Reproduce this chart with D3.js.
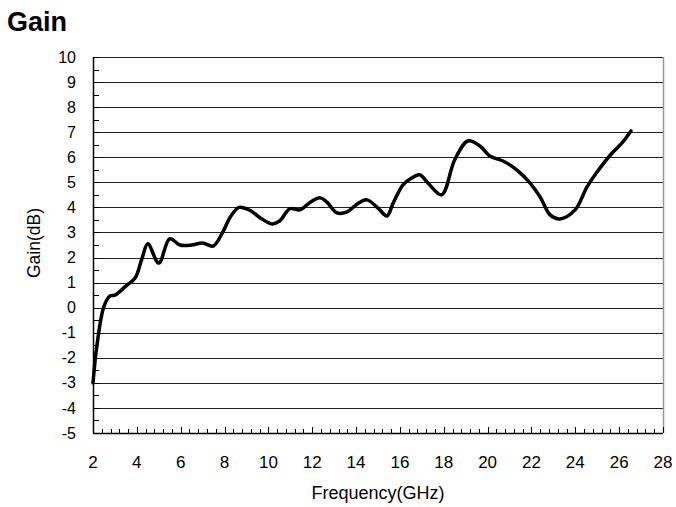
<!DOCTYPE html>
<html>
<head>
<meta charset="utf-8">
<script src="https://cdn.jsdelivr.net/npm/d3@7"></script>
<style>
  body { margin: 0; background: #fff; }
  text { font-family: "Liberation Sans", Arial, sans-serif; fill: #000; }
</style>
</head>
<body>
<div id="wrapper"></div>
<script>
// data
const frequency = [2.0, 2.18, 2.5, 2.78, 3.0, 3.55, 3.92, 4.24, 4.5, 5.0, 5.5, 5.97, 6.5, 7.0, 7.48, 7.9, 8.25, 8.66, 9.16,
  9.6, 10.17, 10.5, 10.99, 11.44, 11.9, 12.36, 12.67, 13.13, 13.59, 14.04, 14.5, 15.0, 15.41, 15.69, 16.14, 16.5, 16.9,
  17.3, 17.9, 18.5, 19.1, 19.65, 20.1, 20.7, 21.34, 21.94, 22.4, 22.85, 23.3, 23.99, 24.53, 24.99, 25.68, 26.13, 26.54];
const gain = [-3.0, -1.5, 0.05, 0.47, 0.5, 0.9, 1.18, 1.98, 2.55, 1.78, 2.75, 2.5, 2.5, 2.58, 2.46, 2.98, 3.6, 4.0, 3.88,
  3.6, 3.34, 3.45, 3.95, 3.9, 4.2, 4.38, 4.21, 3.78, 3.82, 4.13, 4.3, 3.97, 3.66, 4.17, 4.9, 5.15, 5.3,
  4.95, 4.5, 5.9, 6.65, 6.45, 6.05, 5.85, 5.49, 4.97, 4.41, 3.7, 3.54, 3.9, 4.81, 5.41, 6.17, 6.57, 7.05];
const xTicks = [2, 4, 6, 8, 10, 12, 14, 16, 18, 20, 22, 24, 26, 28];
const yTicks = [-5, -4, -3, -2, -1, 0, 1, 2, 3, 4, 5, 6, 7, 8, 9, 10];

const points = frequency.map((f, i) => ({ f, g: gain[i] }));

const width = 676, height = 507;
const margin = { top: 57, right: 13, bottom: 74, left: 93 };
const bw = width - margin.left - margin.right;
const bh = height - margin.top - margin.bottom;

const svg = d3.select('#wrapper').append('svg')
  .attr('width', width)
  .attr('height', height);

const x = d3.scaleLinear().domain([2, 28]).range([0, bw]);
const y = d3.scaleLinear().domain([-5, 10]).range([bh, 0]);

const bounds = svg.append('g')
  .attr('transform', `translate(${margin.left},${margin.top})`);

// gridlines
bounds.selectAll('.grid')
  .data(yTicks.filter(d => d > -5))
  .enter().append('line')
  .attr('x1', 0).attr('x2', bw)
  .attr('y1', d => Math.round(y(d)) + 0.5).attr('y2', d => Math.round(y(d)) + 0.5)
  .attr('stroke', '#222').attr('stroke-width', 1);

// right border
bounds.append('line')
  .attr('x1', bw + 0.5).attr('x2', bw + 0.5)
  .attr('y1', 0).attr('y2', bh)
  .attr('stroke', '#999').attr('stroke-width', 1.5);

// y axis with inward minor ticks
const yMinor = d3.range(-5, 10.01, 0.5);
bounds.selectAll('.ytick')
  .data(yMinor)
  .enter().append('line')
  .attr('x1', 0).attr('x2', 6)
  .attr('y1', d => Math.round(y(d)) + 0.5).attr('y2', d => Math.round(y(d)) + 0.5)
  .attr('stroke', '#000');
bounds.append('line')
  .attr('x1', 0.5).attr('x2', 0.5).attr('y1', 0).attr('y2', bh)
  .attr('stroke', '#000').attr('stroke-width', 1.5);
bounds.selectAll('.ylabel')
  .data(yTicks)
  .enter().append('text')
  .attr('x', -17)
  .attr('y', d => y(d))
  .attr('dy', '0.35em')
  .attr('text-anchor', 'end')
  .style('font-size', '16px')
  .text(d => d);

// x axis with inward minor ticks
const xMinor = d3.range(2, 28.01, 0.4);
bounds.selectAll('.xtick')
  .data(xMinor)
  .enter().append('line')
  .attr('x1', d => Math.round(x(d)) + 0.5).attr('x2', d => Math.round(x(d)) + 0.5)
  .attr('y1', bh).attr('y2', d => Math.abs(((d - 2) / 2) - Math.round((d - 2) / 2)) < 0.01 ? bh - 6 : bh - 4)
  .attr('stroke', '#000');
bounds.append('line')
  .attr('x1', 0).attr('x2', bw).attr('y1', bh + 0.5).attr('y2', bh + 0.5)
  .attr('stroke', '#000').attr('stroke-width', 1.5);
bounds.selectAll('.xlabel')
  .data(xTicks)
  .enter().append('text')
  .attr('x', d => x(d))
  .attr('y', bh + 35)
  .attr('text-anchor', 'middle')
  .style('font-size', '17px')
  .text(d => d);

// the line
const line = d3.line()
  .x(d => x(d.f))
  .y(d => y(d.g))
  .curve(d3.curveCatmullRom.alpha(0.5));

bounds.append('path')
  .datum(points)
  .attr('d', line)
  .attr('fill', 'none')
  .attr('stroke', '#000')
  .attr('stroke-width', 3.5)
  .attr('stroke-linejoin', 'round')
  .attr('stroke-linecap', 'round');

// labels
svg.append('text')
  .attr('x', 7).attr('y', 31)
  .style('font-size', '27px').style('font-weight', 'bold')
  .text('Gain');

svg.append('text')
  .attr('x', 378)
  .attr('y', 499)
  .attr('text-anchor', 'middle')
  .style('font-size', '18px')
  .text('Frequency(GHz)');

svg.append('text')
  .attr('transform', `translate(40,243) rotate(-90)`)
  .attr('text-anchor', 'middle')
  .style('font-size', '17.5px')
  .text('Gain(dB)');
</script>
</body>
</html>
